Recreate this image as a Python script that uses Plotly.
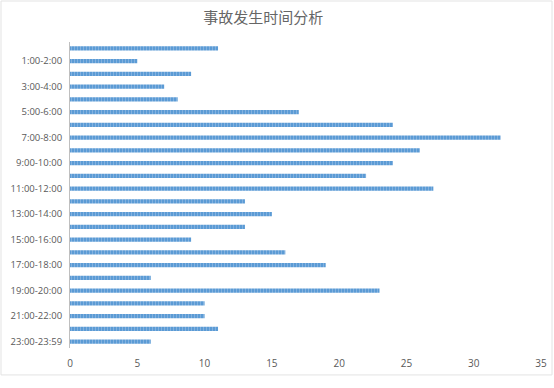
import plotly.graph_objects as go

categories = ["0:00-1:00", "1:00-2:00", "2:00-3:00", "3:00-4:00", "4:00-5:00", "5:00-6:00",
              "6:00-7:00", "7:00-8:00", "8:00-9:00", "9:00-10:00", "10:00-11:00", "11:00-12:00",
              "12:00-13:00", "13:00-14:00", "14:00-15:00", "15:00-16:00", "16:00-17:00", "17:00-18:00",
              "18:00-19:00", "19:00-20:00", "20:00-21:00", "21:00-22:00", "22:00-23:00", "23:00-23:59"]
values = [11, 5, 9, 7, 8, 17, 24, 32, 26, 24, 22, 27, 13, 15, 13, 9, 16, 19, 6, 23, 10, 10, 11, 6]
shown_labels = categories[1::2]
x_ticks = [0, 5, 10, 15, 20, 25, 30, 35]

fig = go.Figure(go.Bar(
    x=values, y=categories, orientation="h",
    marker=dict(color="#5b9bd5", line=dict(width=0),
                pattern=dict(shape="|", size=3, solidity=0.35, fgcolor="#a9c8ea", bgcolor="#5b9bd5")),
))

fig.update_layout(
    width=554, height=388,
    margin=dict(l=70, r=13, t=42, b=40, autoexpand=False),
    paper_bgcolor="white", plot_bgcolor="white",
    showlegend=False,
    bargap=0.68,
    title=dict(text="事故发生时间分析", x=0.475, xanchor="center", y=0.955, yanchor="middle",
               font=dict(family="Noto Sans CJK SC", size=15, color="#666666")),
    font=dict(family="Open Sans", size=10, color="#595959"),
    xaxis=dict(range=[0, 35], tickvals=x_ticks, showgrid=False, zeroline=False, automargin=False,
               showline=False, ticks="", tickfont=dict(size=10, color="#595959"), ticklabelstandoff=8),
    yaxis=dict(autorange="reversed", tickvals=shown_labels, showgrid=False, automargin=False,
               showline=True, linecolor="#bfbfbf", linewidth=1, ticks="",
               tickfont=dict(size=9.5, color="#595959"), ticklabelstandoff=5),
    shapes=[dict(type="rect", xref="paper", yref="paper", x0=-0.1465, x1=1.0234, y0=-0.088, y1=1.134,
                 line=dict(color="#e3e3e3", width=1))],
)

fig.write_html("out.html")
